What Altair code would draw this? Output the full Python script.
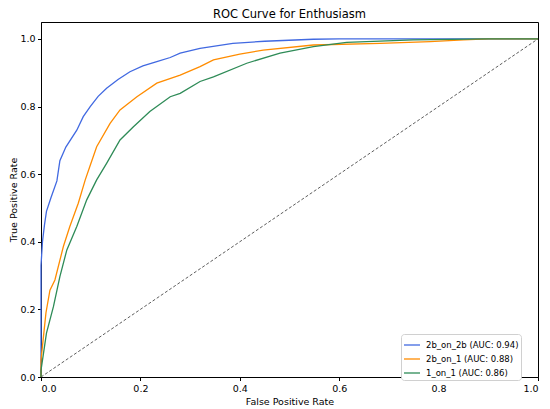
import altair as alt
import pandas as pd

# curves
fpr_2b2b = [0.0, 0.0, 0.003, 0.007, 0.011, 0.02, 0.032, 0.038, 0.05, 0.072, 0.085, 0.099, 0.115, 0.132, 0.155,
            0.179, 0.205, 0.233, 0.26, 0.28, 0.32, 0.386, 0.45, 0.548, 0.6, 0.7, 0.8, 0.9, 1.0]
tpr_2b2b = [0.0, 0.33, 0.40, 0.45, 0.49, 0.53, 0.58, 0.64, 0.68, 0.73, 0.77, 0.80, 0.83, 0.854, 0.88,
            0.903, 0.92, 0.933, 0.945, 0.958, 0.972, 0.987, 0.993, 0.999, 1.0, 1.0, 1.0, 1.0, 1.0]

fpr_2b1 = [0.0, 0.0, 0.005, 0.01, 0.018, 0.028, 0.045, 0.058, 0.075, 0.089, 0.1, 0.112, 0.139, 0.159, 0.193,
           0.233, 0.28, 0.32, 0.347, 0.4, 0.447, 0.548, 0.682, 0.783, 0.85, 0.9, 1.0]
tpr_2b1 = [0.0, 0.05, 0.12, 0.19, 0.257, 0.287, 0.386, 0.445, 0.514, 0.583, 0.63, 0.681, 0.75, 0.79, 0.829,
           0.869, 0.893, 0.918, 0.938, 0.955, 0.967, 0.982, 0.987, 0.992, 0.997, 1.0, 1.0]

fpr_11 = [0.0, 0.0, 0.005, 0.011, 0.025, 0.038, 0.052, 0.072, 0.092, 0.112, 0.132, 0.159, 0.186, 0.219, 0.26,
          0.28, 0.32, 0.347, 0.414, 0.481, 0.548, 0.615, 0.749, 0.9, 1.0]
tpr_11 = [0.0, 0.02, 0.07, 0.13, 0.208, 0.297, 0.376, 0.445, 0.524, 0.583, 0.632, 0.701, 0.74, 0.785, 0.829,
          0.839, 0.874, 0.888, 0.928, 0.958, 0.977, 0.99, 0.997, 1.0, 1.0]

names = ["2b_on_2b (AUC: 0.94)", "2b_on_1 (AUC: 0.88)", "1_on_1 (AUC: 0.86)"]
colors = ["royalblue", "darkorange", "seagreen"]

diag_x = [0.0, 1.0]
diag_y = [0.0, 1.0]

ticks = [0.0, 0.2, 0.4, 0.6, 0.8, 1.0]


def _frame():
    rows = []
    for name, xs, ys in zip(names, [fpr_2b2b, fpr_2b1, fpr_11], [tpr_2b2b, tpr_2b1, tpr_11]):
        for i, (x, y) in enumerate(zip(xs, ys)):
            rows.append({"model": name, "order": i, "fpr": x, "tpr": y})
    return pd.DataFrame(rows)


df = _frame()
diag = pd.DataFrame({"fpr": diag_x, "tpr": diag_y})

axis_style = dict(grid=False, values=ticks, format=".1f", labelFontSize=9.5, titleFontSize=9.5,
                  titleFontWeight="normal", labelColor="black", titleColor="black",
                  domainColor="black", tickColor="black", tickSize=3.5, labelPadding=2.5,
                  labelFont="DejaVu Sans", titleFont="DejaVu Sans")

scale_x = alt.Scale(domain=[0, 1], nice=False, zero=False)
scale_y = alt.Scale(domain=[0, 1.05], nice=False, zero=False)

lines = alt.Chart(df).mark_line(strokeWidth=1.3).encode(
    x=alt.X("fpr:Q", scale=scale_x, axis=alt.Axis(title="False Positive Rate", titlePadding=4, **axis_style)),
    y=alt.Y("tpr:Q", scale=scale_y, axis=alt.Axis(title="True Positive Rate", titlePadding=1, **axis_style)),
    color=alt.Color("model:N", sort=names, scale=alt.Scale(domain=names, range=colors),
                    legend=alt.Legend(title=None, orient="none", legendX=360, legendY=312,
                                      symbolType="stroke",
                                      symbolStrokeWidth=1.3, symbolSize=256, labelFontSize=8.5,
                                      labelFont="DejaVu Sans", labelColor="black",
                                      fillColor="white", strokeColor="#d0d0d0", padding=2,
                                      cornerRadius=3, rowPadding=-8, labelOffset=5)),
    order="order:Q",
)

dashed = alt.Chart(diag).mark_line(color="black", strokeWidth=0.8, strokeDash=[3, 2], opacity=0.8).encode(
    x=alt.X("fpr:Q", scale=scale_x),
    y=alt.Y("tpr:Q", scale=scale_y),
)

chart = alt.layer(dashed, lines).properties(
    width=497,
    height=355,
    title=alt.TitleParams("ROC Curve for Enthusiasm", fontSize=11.5, fontWeight="normal",
                          font="DejaVu Sans", color="black", offset=2),
    autosize=alt.AutoSizeParams(type="none"),
    padding={"left": 33, "top": 14, "right": 4, "bottom": 32},
).configure_view(stroke="black", strokeWidth=1)

chart.save("out.html", embed_options={"renderer": "svg", "actions": False})
